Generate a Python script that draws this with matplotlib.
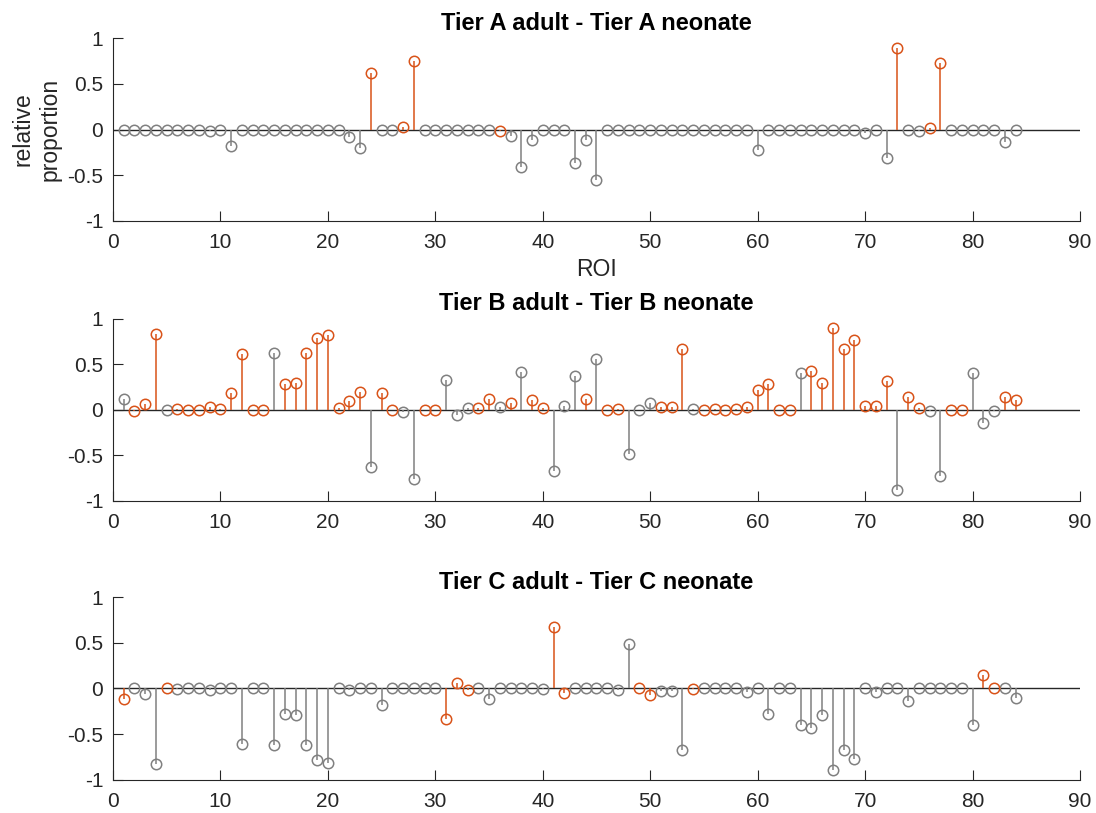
import matplotlib
matplotlib.use("Agg")
import matplotlib.pyplot as plt
import numpy as np

# ---- data (ROI 1..84) ----
roi = np.arange(1, 85)

tier_a = [0, 0, 0, 0, 0, 0, 0, 0, -0.02, 0,
          -0.18, 0, 0, 0, 0, 0, 0, 0, 0, 0,
          -0.01, -0.08, -0.20, 0.62, 0, 0, 0.03, 0.75, 0, 0,
          0, 0, 0, -0.01, 0, -0.02, -0.07, -0.41, -0.11, 0,
          0, 0, -0.37, -0.12, -0.55, 0, 0, 0, 0, 0,
          0, 0, 0, 0, 0, 0, 0, 0, 0, -0.22,
          0, 0, 0, 0, 0, 0, 0, 0, 0, -0.04,
          -0.01, -0.31, 0.89, 0, -0.02, 0.02, 0.73, 0, 0, 0,
          0, 0, -0.14, 0]
tier_a_orange = [24, 27, 28, 36, 73, 76, 77]

tier_b = [0.115, -0.01, 0.06, 0.83, 0, 0.01, 0, 0, 0.035, 0.01,
          0.18, 0.61, 0, 0, 0.625, 0.28, 0.29, 0.62, 0.785, 0.82,
          0.015, 0.10, 0.20, -0.625, 0.185, 0, -0.03, -0.755, 0, 0,
          0.33, -0.06, 0.015, 0.015, 0.12, 0.025, 0.07, 0.41, 0.105, 0.015,
          -0.675, 0.04, 0.375, 0.12, 0.555, 0, 0.01, -0.485, -0.005, 0.07,
          0.03, 0.03, 0.67, 0.01, 0, 0.01, 0, 0.01, 0.035, 0.22,
          0.285, 0, 0, 0.40, 0.43, 0.29, 0.895, 0.67, 0.765, 0.04,
          0.04, 0.31, -0.885, 0.14, 0.015, -0.015, -0.73, 0, 0, 0.40,
          -0.145, -0.015, 0.14, 0.105]
tier_b_gray = [1, 5, 15, 24, 27, 28, 31, 32, 33, 36, 38, 41, 42, 43, 45,
               48, 49, 50, 54, 64, 73, 76, 77, 80, 81, 82]
tier_b_orange = [i for i in roi if i not in tier_b_gray]

tier_c = [-0.115, 0.005, -0.06, -0.83, 0, -0.01, 0, 0, -0.015, 0,
          0, -0.61, 0, 0, -0.625, -0.28, -0.29, -0.62, -0.785, -0.815,
          0, -0.02, 0, 0, -0.18, 0, 0, 0, 0, 0,
          -0.33, 0.06, -0.015, 0, -0.12, 0, 0, 0, 0, -0.01,
          0.675, -0.045, 0, 0, 0, 0, -0.02, 0.485, 0, -0.075,
          -0.03, -0.03, -0.67, -0.01, 0, 0, 0, 0, -0.035, 0,
          -0.285, 0, 0, -0.40, -0.43, -0.29, -0.895, -0.67, -0.77, 0,
          -0.035, 0, 0, -0.14, 0, 0, 0, 0, 0, -0.40,
          0.145, 0.01, 0, -0.10]
tier_c_orange = [1, 5, 31, 32, 33, 41, 42, 49, 50, 54, 81, 82]

titles = ["Tier A adult - Tier A neonate",
          "Tier B adult - Tier B neonate",
          "Tier C adult - Tier C neonate"]
panels = [(tier_a, tier_a_orange), (tier_b, tier_b_orange), (tier_c, tier_c_orange)]

ORANGE = "#D95319"
GRAY = "#808080"
AXCOL = "#262626"

plt.rcParams['font.family'] = ['Liberation Sans', 'DejaVu Sans']

fig = plt.figure(figsize=(10.96, 8.13), dpi=100)
left, width, height = 0.1031, 0.8823, 0.2244
bottoms = [0.7285, 0.3838, 0.0410]

for k, ((vals, orange_idx), title) in enumerate(zip(panels, titles)):
    ax = fig.add_axes([left, bottoms[k], width, height])
    vals = np.array(vals)
    is_orange = np.isin(roi, orange_idx)

    ax.axhline(0, color=AXCOL, lw=1.0, zorder=1)
    for mask, col in [(~is_orange, GRAY), (is_orange, ORANGE)]:
        ax.vlines(roi[mask], 0, vals[mask], color=col, lw=1.1, zorder=2)
        ax.plot(roi[mask], vals[mask], 'o', mfc='none', mec=col,
                ms=7.5, mew=1.1, ls='none', zorder=3)

    ax.set_xlim(0, 90)
    ax.set_ylim(-1, 1)
    ax.set_xticks(np.arange(0, 91, 10))
    ax.set_yticks([-1, -0.5, 0, 0.5, 1])
    ax.set_yticklabels(["-1", "-0.5", "0", "0.5", "1"])
    ax.tick_params(direction='in', length=7, width=0.8, colors=AXCOL,
                   labelsize=15)
    ax.tick_params(axis='x', pad=9)
    ax.tick_params(axis='y', pad=7)
    for side in ['top', 'right']:
        ax.spines[side].set_visible(False)
    for side in ['left', 'bottom']:
        ax.spines[side].set_color(AXCOL)
        ax.spines[side].set_linewidth(0.8)
    ax.set_title(title, fontsize=17, fontweight='bold', color='black', pad=6)

    if k == 0:
        ax.set_ylabel("relative\nproportion", fontsize=16.5, color=AXCOL,
                      linespacing=1.25, labelpad=4)
        ax.set_xlabel("ROI", fontsize=16.5, color=AXCOL, labelpad=4)

fig.savefig("out.png", dpi=100)
